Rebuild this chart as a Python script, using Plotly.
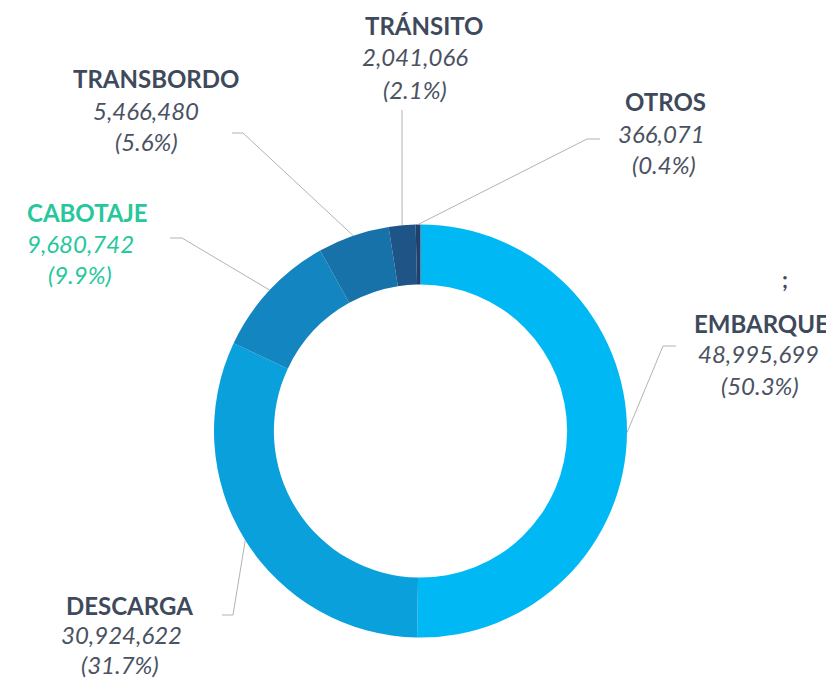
import math
import plotly.graph_objects as go

# ---- data ----
categories = ["EMBARQUE", "DESCARGA", "CABOTAJE", "TRANSBORDO", "TRÁNSITO", "OTROS"]
values = [48995699, 30924622, 9680742, 5466480, 2041066, 366071]
value_labels = ["48,995,699", "30,924,622", "9,680,742", "5,466,480", "2,041,066", "366,071"]
pct_labels = ["(50.3%)", "(31.7%)", "(9.9%)", "(5.6%)", "(2.1%)", "(0.4%)"]

# ---- styling / layout ----
OFF = 8  # page body margin
W, H = 834 - OFF, 680 - OFF
slice_colors = ["#00b9f4", "#0aa0dc", "#1385c1", "#1772aa", "#1f5486", "#233f6b"]
text_color = "#3e4a5c"
name_colors = ["#3e4a5c", "#3e4a5c", "#27c79c", "#3e4a5c", "#3e4a5c", "#3e4a5c"]
num_colors = ["#4a5262", "#4a5262", "#27c79c", "#4a5262", "#4a5262", "#4a5262"]

CX, CY, R = 420.5, 431.0, 206.5  # pixel centre/radius of the donut (window coords)
HOLE = 0.71

# label layout per category: (title_x, number_x, pct_x, title_y, line_gap)
label_pos = {
    "EMBARQUE": (761, 758, 760, 323, 31),
    "DESCARGA": (130, 121, 120, 605, 29.5),
    "CABOTAJE": (87, 80, 80, 212.5, 31),
    "TRANSBORDO": (156, 146, 146, 78.5, 31.5),
    "TRÁNSITO": (424, 415, 415, 25, 32),
    "OTROS": (665, 661, 664, 101.5, 31.5),
}
# leader line: elbow point and end point (window pixels)
leader_pos = {
    "EMBARQUE": ((663, 346), (676, 346)),
    "DESCARGA": ((233, 615), (222, 615)),
    "CABOTAJE": ((182, 238), (170, 238)),
    "TRANSBORDO": ((243, 133), (232, 133)),
    "TRÁNSITO": (None, (402, 110)),
    "OTROS": ((587, 139), (600, 139)),
}


def px(x):
    return (x - OFF) / W


def py(y):
    return 1 - (y - OFF) / H


fig = go.Figure()
fig.add_trace(go.Pie(
    labels=categories,
    values=values,
    sort=False,
    direction="clockwise",
    rotation=0,
    hole=HOLE,
    marker=dict(colors=slice_colors, line=dict(width=0)),
    textinfo="none",
    hoverinfo="label+value+percent",
    domain=dict(x=[px(CX - R), px(CX + R)], y=[py(CY + R), py(CY - R)]),
    showlegend=False,
))

annotations = []
shapes = []
total = sum(values)
cum = 0.0
for i, cat in enumerate(categories):
    frac = values[i] / total
    mid = cum + frac / 2
    cum += frac
    theta = 2 * math.pi * mid
    sx = CX + R * math.sin(theta)
    sy = CY - R * math.cos(theta)
    elbow, end = leader_pos[cat]
    pts = [(sx, sy)] + ([elbow] if elbow else []) + [end]
    path = "M " + " L ".join(f"{px(x):.5f},{py(y):.5f}" for x, y in pts)
    shapes.append(dict(type="path", path=path, xref="paper", yref="paper",
                       line=dict(color="#b3b3b3", width=1)))

    tx, nx, pctx, ty, gap = label_pos[cat]
    annotations.append(dict(
        x=px(tx), y=py(ty), xref="paper", yref="paper", showarrow=False,
        xanchor="center", yanchor="middle", text=f"<b>{cat}</b>",
        font=dict(family="Lato", size=24, color=name_colors[i], weight=900)))
    annotations.append(dict(
        x=px(nx), y=py(ty + gap), xref="paper", yref="paper", showarrow=False,
        xanchor="center", yanchor="middle", text=value_labels[i],
        font=dict(family="Lato", size=24, color=num_colors[i], style="italic")))
    annotations.append(dict(
        x=px(pctx), y=py(ty + 2 * gap), xref="paper", yref="paper", showarrow=False,
        xanchor="center", yanchor="middle", text=pct_labels[i],
        font=dict(family="Lato", size=24, color=num_colors[i], style="italic")))

annotations.append(dict(
    x=px(785), y=py(279), xref="paper", yref="paper", showarrow=False,
    xanchor="center", yanchor="middle", text="<b>;</b>",
    font=dict(family="Lato", size=22, color=text_color)))

fig.update_layout(
    width=W, height=H,
    margin=dict(l=0, r=0, t=0, b=0),
    paper_bgcolor="white", plot_bgcolor="white",
    annotations=annotations, shapes=shapes,
)

fig.write_html("out.html")
